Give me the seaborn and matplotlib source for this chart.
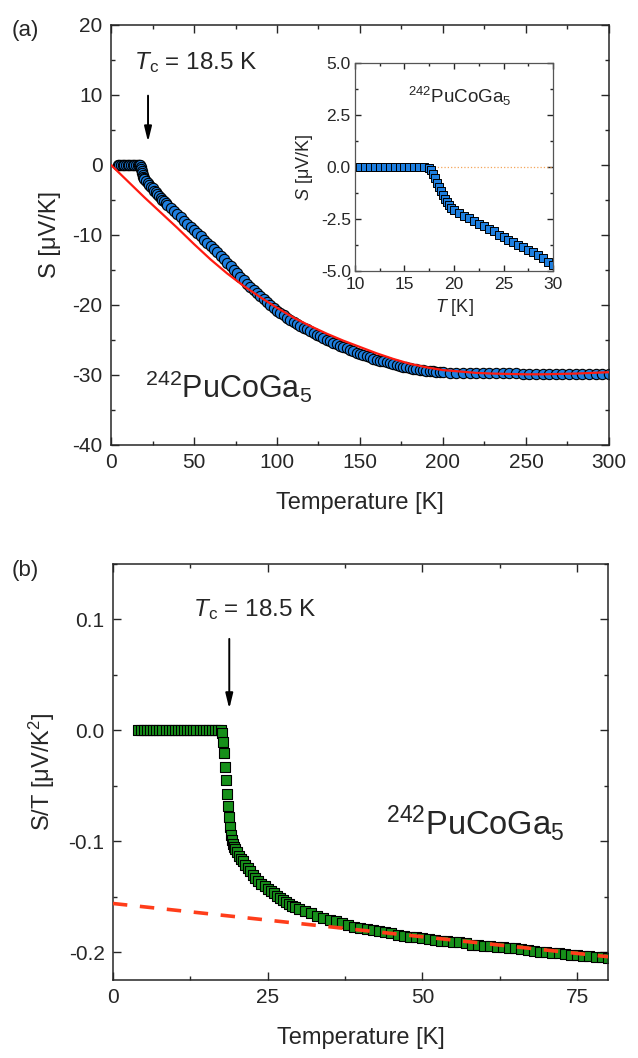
import matplotlib
matplotlib.use("Agg")
import matplotlib.pyplot as plt
import seaborn as sns
import pandas as pd
from matplotlib.ticker import MultipleLocator, FormatStrFormatter

# panel (a): thermopower S(T), 0-300 K
temp_a = [4, 5, 6, 7, 8, 9, 10, 11, 12, 13, 14, 15, 16, 17, 17.4,
          17.8, 18.1, 18.4, 18.7, 19.0, 19.3, 19.6, 20, 21, 22, 23, 24, 25, 26, 27,
          28, 29, 30, 31, 32, 33, 34,
          36, 38, 40, 42, 44, 46, 48, 50, 52, 54, 56, 58, 60, 62, 64, 66, 68,
          70, 72, 74, 76, 78, 80, 82, 84, 86, 88, 90, 92, 94, 96, 98, 100,
          102, 104, 106, 108, 110, 112, 114, 116, 118, 120, 122, 124, 126, 128, 130,
          132, 134, 136, 138, 140, 142, 144, 146, 148, 150, 152, 154, 156, 158, 160,
          162, 164, 166, 168, 170, 172, 174, 176, 178, 180, 182, 184, 186, 188, 190,
          192, 194, 196, 198, 200,
          204, 208, 212, 216, 220, 224, 228, 232, 236, 240, 244, 248, 252,
          256, 260, 264, 268, 272, 276, 280, 284, 288, 292, 296, 300]
seebeck_a = [0, 0, 0, 0, 0, 0, 0, 0, 0, 0, 0, 0, 0, 0, 0,
             -0.3, -0.6, -0.9, -1.2, -1.5, -1.7, -1.9, -2.05, -2.35, -2.6, -2.85, -3.1, -3.35, -3.65, -3.9,
             -4.2, -4.45, -4.7, -4.95, -5.2, -5.45, -5.7,
             -6.15, -6.6, -7.05, -7.5, -7.95, -8.4, -8.85, -9.3, -9.75, -10.2, -10.65, -11.1, -11.55, -12.0, -12.5, -13.0, -13.5,
             -14.0, -14.5, -15.0, -15.5, -16.0, -16.5, -16.95, -17.4, -17.85, -18.3, -18.75, -19.2, -19.6, -20.0, -20.4, -20.8,
             -21.15, -21.5, -21.8, -22.1, -22.4, -22.7, -22.95, -23.25, -23.5, -23.75, -24.0, -24.25, -24.5, -24.7, -24.95,
             -25.15, -25.4, -25.6, -25.8, -26.0, -26.2, -26.4, -26.6, -26.8, -26.95, -27.15, -27.3, -27.45, -27.65, -27.8,
             -27.95, -28.05, -28.2, -28.35, -28.5, -28.6, -28.7, -28.8, -28.9, -29.0, -29.1, -29.2, -29.3, -29.35, -29.4,
             -29.45, -29.5, -29.55, -29.55, -29.6,
             -29.65, -29.65, -29.7, -29.7, -29.7, -29.7, -29.75, -29.75, -29.75, -29.75, -29.75, -29.8, -29.8,
             -29.8, -29.8, -29.8, -29.8, -29.8, -29.85, -29.85, -29.85, -29.85, -29.85, -29.85, -29.85]

# red model curve in (a)
fit_temp_a = [0, 10, 20, 30, 40, 50, 60, 70, 80, 90, 100, 110, 120, 130, 140, 150,
              160, 170, 180, 190, 200, 210, 220, 230, 240, 250, 260, 270, 280, 290, 300]
fit_seebeck_a = [0, -2.3, -4.6, -6.8, -9.0, -11.3, -13.5, -15.5, -17.3, -18.9, -20.4, -21.8, -23.0, -24.1, -25.1, -26.0,
                 -26.9, -27.7, -28.4, -28.9, -29.3, -29.5, -29.7, -29.8, -29.85, -29.9, -29.9, -29.85, -29.8, -29.7, -29.6]

# inset: low-temperature zoom
temp_inset = [10.0, 10.5, 11.0, 11.5, 12.0, 12.5, 13.0, 13.5, 14.0, 14.5, 15.0, 15.5, 16.0, 16.5, 17.0,
              17.5, 17.7, 17.9, 18.1, 18.3, 18.5, 18.7, 18.9, 19.1, 19.3, 19.5, 19.7,
              20.0, 20.5, 21.0, 21.5, 22.0, 22.5, 23.0, 23.5, 24.0, 24.5, 25.0,
              25.5, 26.0, 26.5, 27.0, 27.5, 28.0, 28.5, 29.0, 29.5, 30.0]
seebeck_inset = [0, 0, 0, 0, 0, 0, 0, 0, 0, 0, 0, 0, 0, 0, 0,
                 -0.03, -0.15, -0.35, -0.55, -0.75, -0.95, -1.15, -1.35, -1.55, -1.7, -1.85, -1.95,
                 -2.05, -2.2, -2.35, -2.45, -2.6, -2.75, -2.85, -3.0, -3.1, -3.25, -3.35,
                 -3.5, -3.6, -3.75, -3.85, -4.0, -4.1, -4.25, -4.4, -4.55, -4.7]
zero_temp_inset = [18, 30]
zero_seebeck_inset = [0, 0]

# panel (b): S/T
temp_b = [4.0, 4.5, 5.0, 5.5, 6.0, 6.5, 7.0, 7.5, 8.0, 8.5, 9.0, 9.5, 10.0, 10.5,
          11.0, 11.5, 12.0, 12.5, 13.0, 13.5, 14.0, 14.5, 15.0, 15.5, 16.0, 16.5, 17.0, 17.5,
          17.7, 17.85, 18.0, 18.15, 18.3, 18.45, 18.6, 18.75, 18.9, 19.05, 19.2, 19.4, 19.6, 19.8,
          20.1, 20.4, 20.7, 21.0, 21.4, 21.8, 22.2, 22.6, 23.0, 23.5, 24.0, 24.5, 25.0,
          25.5, 26.0, 26.5, 27.0, 27.5, 28.0, 28.5, 29.0, 29.5, 30.0,
          31, 32, 33, 34, 35, 36, 37, 38, 39, 40, 41, 42, 43, 44, 45, 46, 47, 48, 49, 50,
          51, 52, 53, 54, 55, 56, 57, 58, 59, 60, 61, 62, 63, 64, 65, 66, 67, 68, 69, 70,
          71, 72, 73, 74, 75, 76, 77, 78, 79, 80]
s_over_t_b = [0, 0, 0, 0, 0, 0, 0, 0, 0, 0, 0, 0, 0, 0,
              0, 0, 0, 0, 0, 0, 0, 0, 0, 0, 0, 0, 0, 0,
              -0.002, -0.01, -0.02, -0.033, -0.045, -0.057, -0.068, -0.078, -0.087, -0.094, -0.099, -0.102, -0.105, -0.107,
              -0.110, -0.113, -0.116, -0.118, -0.121, -0.124, -0.127, -0.130, -0.133, -0.136, -0.138, -0.140, -0.143,
              -0.145, -0.147, -0.149, -0.151, -0.153, -0.155, -0.1565, -0.158, -0.1595, -0.161,
              -0.163, -0.165, -0.167, -0.169, -0.171, -0.172, -0.174, -0.175, -0.177, -0.178,
              -0.179, -0.180, -0.181, -0.182, -0.183, -0.184, -0.185, -0.186, -0.1865, -0.187,
              -0.188, -0.189, -0.1895, -0.190, -0.1905, -0.191, -0.192, -0.193, -0.1935, -0.194,
              -0.1945, -0.195, -0.1955, -0.196, -0.1965, -0.197, -0.198, -0.199, -0.1995, -0.200,
              -0.2005, -0.201, -0.2015, -0.202, -0.2025, -0.203, -0.2035, -0.204, -0.2045, -0.205]
fit_temp_b = [0, 80]
fit_s_over_t_b = [-0.156, -0.204]

sns.set_style("ticks")
plt.rcParams["font.family"] = ["Liberation Sans", "DejaVu Sans"]
plt.rcParams["mathtext.fontset"] = "custom"
plt.rcParams["mathtext.rm"] = "Liberation Sans"
plt.rcParams["mathtext.it"] = "Liberation Sans:italic"
plt.rcParams["axes.unicode_minus"] = False
plt.rcParams["axes.linewidth"] = 1.1

compound = r"$^{242}$PuCoGa$_5$"
tc_label = r"$T$$_{\rm c}$ = 18.5 K"


def style_axes(ax, xmaj, xmin, ymaj, ymin, yfmt, size, major_len=6, minor_len=3):
    ax.xaxis.set_major_locator(MultipleLocator(xmaj))
    ax.xaxis.set_minor_locator(MultipleLocator(xmin))
    ax.yaxis.set_major_locator(MultipleLocator(ymaj))
    ax.yaxis.set_minor_locator(MultipleLocator(ymin))
    ax.yaxis.set_major_formatter(FormatStrFormatter(yfmt))
    ax.tick_params(which="both", direction="in", top=True, right=True, width=1, labelsize=size, pad=6)
    ax.tick_params(which="major", length=major_len)
    ax.tick_params(which="minor", length=minor_len)
    for sp in ax.spines.values():
        sp.set_visible(True)


fig = plt.figure(figsize=(6.38, 10.58), dpi=100)
ax_a = fig.add_axes([0.174, 0.5794, 0.7805, 0.397])
ax_in = fig.add_axes([0.5564, 0.7439, 0.3104, 0.1966])
ax_b = fig.add_axes([0.177, 0.0737, 0.776, 0.3932])

# ---- panel (a)
df_a = pd.DataFrame({"T": temp_a, "S": seebeck_a})
sns.scatterplot(data=df_a, x="T", y="S", ax=ax_a, marker="o", s=55,
                color="#1e7fe0", edgecolor="black", linewidth=0.8, zorder=2)
df_fit_a = pd.DataFrame({"T": fit_temp_a, "S": fit_seebeck_a})
sns.lineplot(data=df_fit_a, x="T", y="S", ax=ax_a, color="#ff1a10", linewidth=1.6, zorder=3)
ax_a.set_xlim(0, 300)
ax_a.set_ylim(-40, 20)
style_axes(ax_a, 50, 25, 10, 5, "%d", 15)
ax_a.set_xlabel("Temperature [K]", fontsize=17, labelpad=14)
ax_a.set_ylabel("S [μV/K]", fontsize=17, labelpad=8)
ax_a.text(20.5, -33.3, compound, fontsize=22, ha="left", va="baseline")
ax_a.text(51, 14.6, tc_label, fontsize=17.5, ha="center", va="center")
ax_a.annotate("", xy=(22.3, 2.9), xytext=(22.3, 10.3),
              arrowprops=dict(arrowstyle="-|>,head_length=0.9,head_width=0.22", color="black", lw=1.4))
fig.text(0.018, 0.981, "(a)", fontsize=16, ha="left", va="top")

# ---- inset
df_in = pd.DataFrame({"T": temp_inset, "S": seebeck_inset})
sns.lineplot(x=zero_temp_inset, y=zero_seebeck_inset, ax=ax_in, color="#f5a55a",
             linewidth=0.9, linestyle=":", zorder=1)
sns.scatterplot(data=df_in, x="T", y="S", ax=ax_in, marker="s", s=26,
                color="#1e7fe0", edgecolor="black", linewidth=0.7, zorder=2)
ax_in.set_xlim(10, 30)
ax_in.set_ylim(-5, 5)
style_axes(ax_in, 5, 2.5, 2.5, 1.25, "%.1f", 12.5, major_len=4, minor_len=2)
ax_in.tick_params(axis="x", pad=4)
ax_in.tick_params(axis="y", pad=3)
for sp in ax_in.spines.values():
    sp.set_color("#555555")
    sp.set_linewidth(0.9)
ax_in.set_xlabel(r"$T$ [K]", fontsize=13, labelpad=4)
ax_in.set_ylabel(r"$S$ [μV/K]", fontsize=13, labelpad=4)
ax_in.text(15.35, 3.07, compound, fontsize=13.5, ha="left", va="baseline")

# ---- panel (b)
df_b = pd.DataFrame({"T": temp_b, "ST": s_over_t_b})
sns.scatterplot(data=df_b, x="T", y="ST", ax=ax_b, marker="s", s=45,
                color="#17901a", edgecolor="black", linewidth=0.8, zorder=2)
df_fit_b = pd.DataFrame({"T": fit_temp_b, "ST": fit_s_over_t_b})
sns.lineplot(data=df_fit_b, x="T", y="ST", ax=ax_b, color="#ff3d1a", linewidth=2.6,
             linestyle=(0, (4, 3.5)), zorder=3)
ax_b.set_xlim(0, 80)
ax_b.set_ylim(-0.225, 0.15)
style_axes(ax_b, 25, 12.5, 0.1, 0.05, "%.1f", 15)
ax_b.set_xlabel("Temperature [K]", fontsize=17, labelpad=14)
ax_b.set_ylabel(r"S/T [μV/K$^2$]", fontsize=17, labelpad=8)
ax_b.text(44.2, -0.094, compound, fontsize=23.5, ha="left", va="baseline")
ax_b.text(22.9, 0.109, tc_label, fontsize=17.5, ha="center", va="center")
ax_b.annotate("", xy=(18.8, 0.017), xytext=(18.8, 0.085),
              arrowprops=dict(arrowstyle="-|>,head_length=0.9,head_width=0.22", color="black", lw=1.4))
fig.text(0.018, 0.471, "(b)", fontsize=16, ha="left", va="top")

fig.savefig("out.png", dpi=100)
plt.close(fig)
